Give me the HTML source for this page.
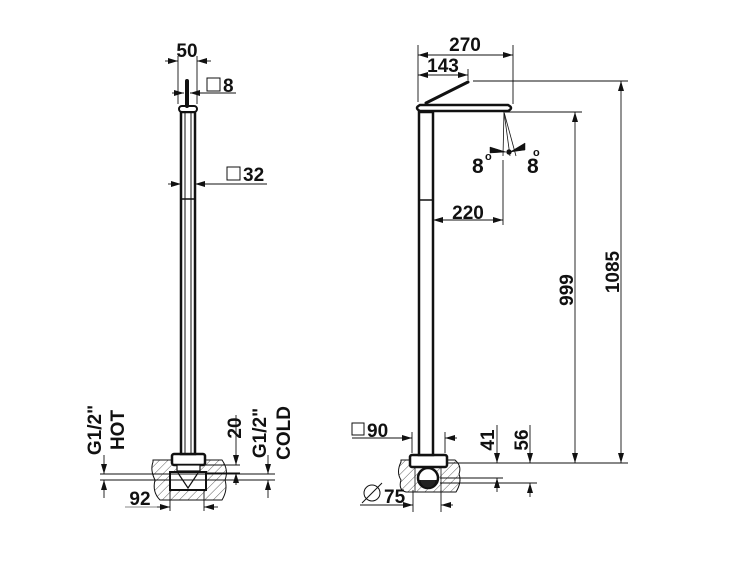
<!DOCTYPE html>
<html><head><meta charset="utf-8"><style>
html,body{margin:0;padding:0;background:#fff;width:750px;height:563px;overflow:hidden}
svg text{font-family:"Liberation Sans",sans-serif;font-weight:bold;fill:#111}
</style></head><body>
<svg width="750" height="563" viewBox="0 0 750 563" xmlns="http://www.w3.org/2000/svg">
<defs>
<marker id="a" viewBox="0 0 10 6" refX="10" refY="3" markerWidth="10" markerHeight="6" orient="auto-start-reverse" markerUnits="userSpaceOnUse"><path d="M0,0L10,3L0,6z" fill="#111"/></marker>
<pattern id="h" width="6" height="6" patternUnits="userSpaceOnUse" patternTransform="rotate(45)"><line x1="0" y1="0" x2="0" y2="6" stroke="#333" stroke-width="0.8"/></pattern>
</defs>
<g stroke="#111" fill="none">
<!-- LEFT FIXTURE -->
<path d="M153,462 Q150,470 155,480 Q152,492 160,500 L222,500 Q228,490 225,480 Q229,470 222,460 L153,460z" fill="url(#h)" stroke-width="1"/>
<rect x="170" y="472" width="36" height="18" fill="#fff" stroke-width="2"/>
<path d="M178,473 L188,488 L198,473" fill="#fff" stroke-width="1.2"/>
<rect x="172" y="454" width="33" height="11" rx="2" fill="#fff" stroke-width="2.5"/>
<rect x="177" y="465" width="23" height="6" fill="#fff" stroke-width="1.2"/>
<rect x="181" y="112" width="14" height="342" fill="#fff" stroke-width="2.5"/>
<line x1="185" y1="112" x2="185" y2="454" stroke-width="1"/>
<line x1="191" y1="112" x2="191" y2="454" stroke-width="1"/>
<line x1="181" y1="199" x2="195" y2="199" stroke-width="1.5"/>
<rect x="179" y="106" width="18" height="6" rx="3" fill="#fff" stroke-width="2"/>
<line x1="187" y1="81" x2="187" y2="106" stroke-width="4" stroke-linecap="round"/>
<g stroke-width="0.9">
<line x1="178" y1="56" x2="178" y2="104"/><line x1="197" y1="56" x2="197" y2="104"/>
<line x1="165" y1="61" x2="178" y2="61" marker-end="url(#a)"/><line x1="211" y1="61" x2="197" y2="61" marker-end="url(#a)"/>
<line x1="172" y1="93" x2="184" y2="93" marker-end="url(#a)"/><line x1="236" y1="93" x2="190" y2="93" marker-end="url(#a)"/>
<line x1="168" y1="184" x2="181" y2="184" marker-end="url(#a)"/><line x1="267" y1="184" x2="195" y2="184" marker-end="url(#a)"/>
<line x1="100" y1="474" x2="275" y2="474"/><line x1="100" y1="480" x2="275" y2="480"/>
<line x1="205" y1="465" x2="240" y2="465"/><line x1="206" y1="473" x2="240" y2="473"/>
<line x1="236" y1="415" x2="236" y2="465" marker-end="url(#a)"/><line x1="236" y1="485" x2="236" y2="473" marker-end="url(#a)"/>
<line x1="104" y1="455" x2="104" y2="474" marker-end="url(#a)"/><line x1="104" y1="498" x2="104" y2="480" marker-end="url(#a)"/>
<line x1="268" y1="455" x2="268" y2="474" marker-end="url(#a)"/><line x1="268" y1="498" x2="268" y2="480" marker-end="url(#a)"/>
<line x1="170" y1="490" x2="170" y2="511"/><line x1="204" y1="490" x2="204" y2="511"/>
<line x1="125" y1="507" x2="170" y2="507" stroke-width="0.6"/>
<line x1="157" y1="507" x2="170" y2="507" marker-end="url(#a)"/><line x1="218" y1="507" x2="204" y2="507" marker-end="url(#a)"/>
</g>
<rect x="207" y="78" width="13" height="13" stroke-width="1"/>
<rect x="227" y="167" width="13" height="13" stroke-width="1"/>

<!-- RIGHT FIXTURE -->
<path d="M401,462 Q396,472 401,480 Q398,490 406,492 L456,492 Q462,482 459,474 Q462,466 455,460 L401,460z" fill="url(#h)" stroke-width="1"/>
<circle cx="428" cy="478" r="10" fill="#fff" stroke-width="2.5"/>
<path d="M420,480 A8,8 0 0 0 436,480" fill="#222" stroke-width="1"/>
<line x1="415" y1="468" x2="415" y2="492" stroke-width="0.8"/><line x1="441" y1="468" x2="441" y2="492" stroke-width="0.8"/>
<rect x="410" y="455" width="37" height="12" rx="2" fill="#fff" stroke-width="2.5"/>
<rect x="419" y="112" width="14" height="343" fill="#fff" stroke-width="2.5"/>
<line x1="419" y1="200" x2="433" y2="200" stroke-width="1.5"/>
<path d="M420,105 L508,105 Q514,108 508,111 L420,111 Q414,108 420,105z" fill="#fff" stroke-width="2.5"/>
<line x1="426" y1="103" x2="468" y2="82" stroke-width="3" stroke-linecap="round"/>
<g stroke-width="0.8">
<line x1="504" y1="112" x2="503" y2="156"/><line x1="504" y1="112" x2="510" y2="156"/><line x1="504" y1="112" x2="516" y2="156"/>
</g>
<path d="M490,147 L506,152 L490,153z M525,143 L510,152 L525,150z" fill="#111" stroke-width="0.5"/>
<circle cx="509" cy="152" r="2.2" fill="#111"/>
<g stroke-width="0.9">
<line x1="418" y1="45" x2="418" y2="102"/><line x1="513" y1="45" x2="513" y2="104"/>
<line x1="418" y1="55" x2="513" y2="55" marker-start="url(#a)" marker-end="url(#a)"/>
<line x1="468" y1="69" x2="468" y2="80"/>
<line x1="418" y1="75" x2="468" y2="75" marker-start="url(#a)" marker-end="url(#a)"/>
<line x1="473" y1="81" x2="628" y2="81"/>
<line x1="505" y1="112" x2="582" y2="112"/>
<line x1="575" y1="112" x2="575" y2="463" marker-start="url(#a)" marker-end="url(#a)"/>
<line x1="621" y1="81" x2="621" y2="463" marker-start="url(#a)" marker-end="url(#a)"/>
<line x1="447" y1="463" x2="628" y2="463"/>
<line x1="503" y1="160" x2="503" y2="225"/>
<line x1="433" y1="220" x2="503" y2="220" marker-start="url(#a)" marker-end="url(#a)"/>
<line x1="440" y1="478" x2="503" y2="478"/><line x1="440" y1="483" x2="537" y2="483"/>
<line x1="497" y1="425" x2="497" y2="463" marker-end="url(#a)"/><line x1="497" y1="492" x2="497" y2="478" marker-end="url(#a)"/>
<line x1="530" y1="425" x2="530" y2="463" marker-end="url(#a)"/><line x1="530" y1="497" x2="530" y2="483" marker-end="url(#a)"/>
<line x1="412" y1="432" x2="412" y2="453"/><line x1="445" y1="432" x2="445" y2="453"/>
<line x1="352" y1="438" x2="412" y2="438"/><line x1="398" y1="438" x2="412" y2="438" marker-end="url(#a)"/><line x1="457" y1="438" x2="445" y2="438" marker-end="url(#a)"/>
<line x1="413" y1="490" x2="413" y2="512"/><line x1="441" y1="490" x2="441" y2="512"/>
<line x1="360" y1="505" x2="413" y2="505"/><line x1="400" y1="505" x2="413" y2="505" marker-end="url(#a)"/><line x1="453" y1="505" x2="441" y2="505" marker-end="url(#a)"/>
</g>
<rect x="352" y="423" width="12" height="12" stroke-width="1"/>
<circle cx="372" cy="493" r="8" stroke-width="1"/><line x1="362" y1="503" x2="382" y2="483" stroke-width="1"/>
</g>
<g font-size="19">
<text x="187" y="57" text-anchor="middle">50</text>
<text x="223" y="92">8</text>
<text x="243" y="181">32</text>
<text x="140" y="505" text-anchor="middle">92</text>
<text transform="translate(241,428) rotate(-90)" text-anchor="middle">20</text>
<text transform="translate(101,430) rotate(-90)" text-anchor="middle">G1/2"</text>
<text transform="translate(124,430) rotate(-90)" text-anchor="middle">HOT</text>
<text transform="translate(266,433) rotate(-90)" text-anchor="middle">G1/2"</text>
<text transform="translate(290,433) rotate(-90)" text-anchor="middle">COLD</text>
<text x="465" y="51" text-anchor="middle">270</text>
<text x="443" y="72" text-anchor="middle">143</text>
<text x="468" y="219" text-anchor="middle">220</text>
<text x="472" y="173" font-size="21">8</text><text x="485" y="160" font-size="11" font-weight="normal">o</text>
<text x="527" y="173" font-size="21">8</text><text x="533" y="156" font-size="11" font-weight="normal">o</text>
<text transform="translate(573,290) rotate(-90)" text-anchor="middle">999</text>
<text transform="translate(619,272) rotate(-90)" text-anchor="middle">1085</text>
<text x="367" y="437">90</text>
<text x="384" y="503">75</text>
<text transform="translate(494,440) rotate(-90)" text-anchor="middle">41</text>
<text transform="translate(528,440) rotate(-90)" text-anchor="middle">56</text>
</g>
</svg>
</body></html>
